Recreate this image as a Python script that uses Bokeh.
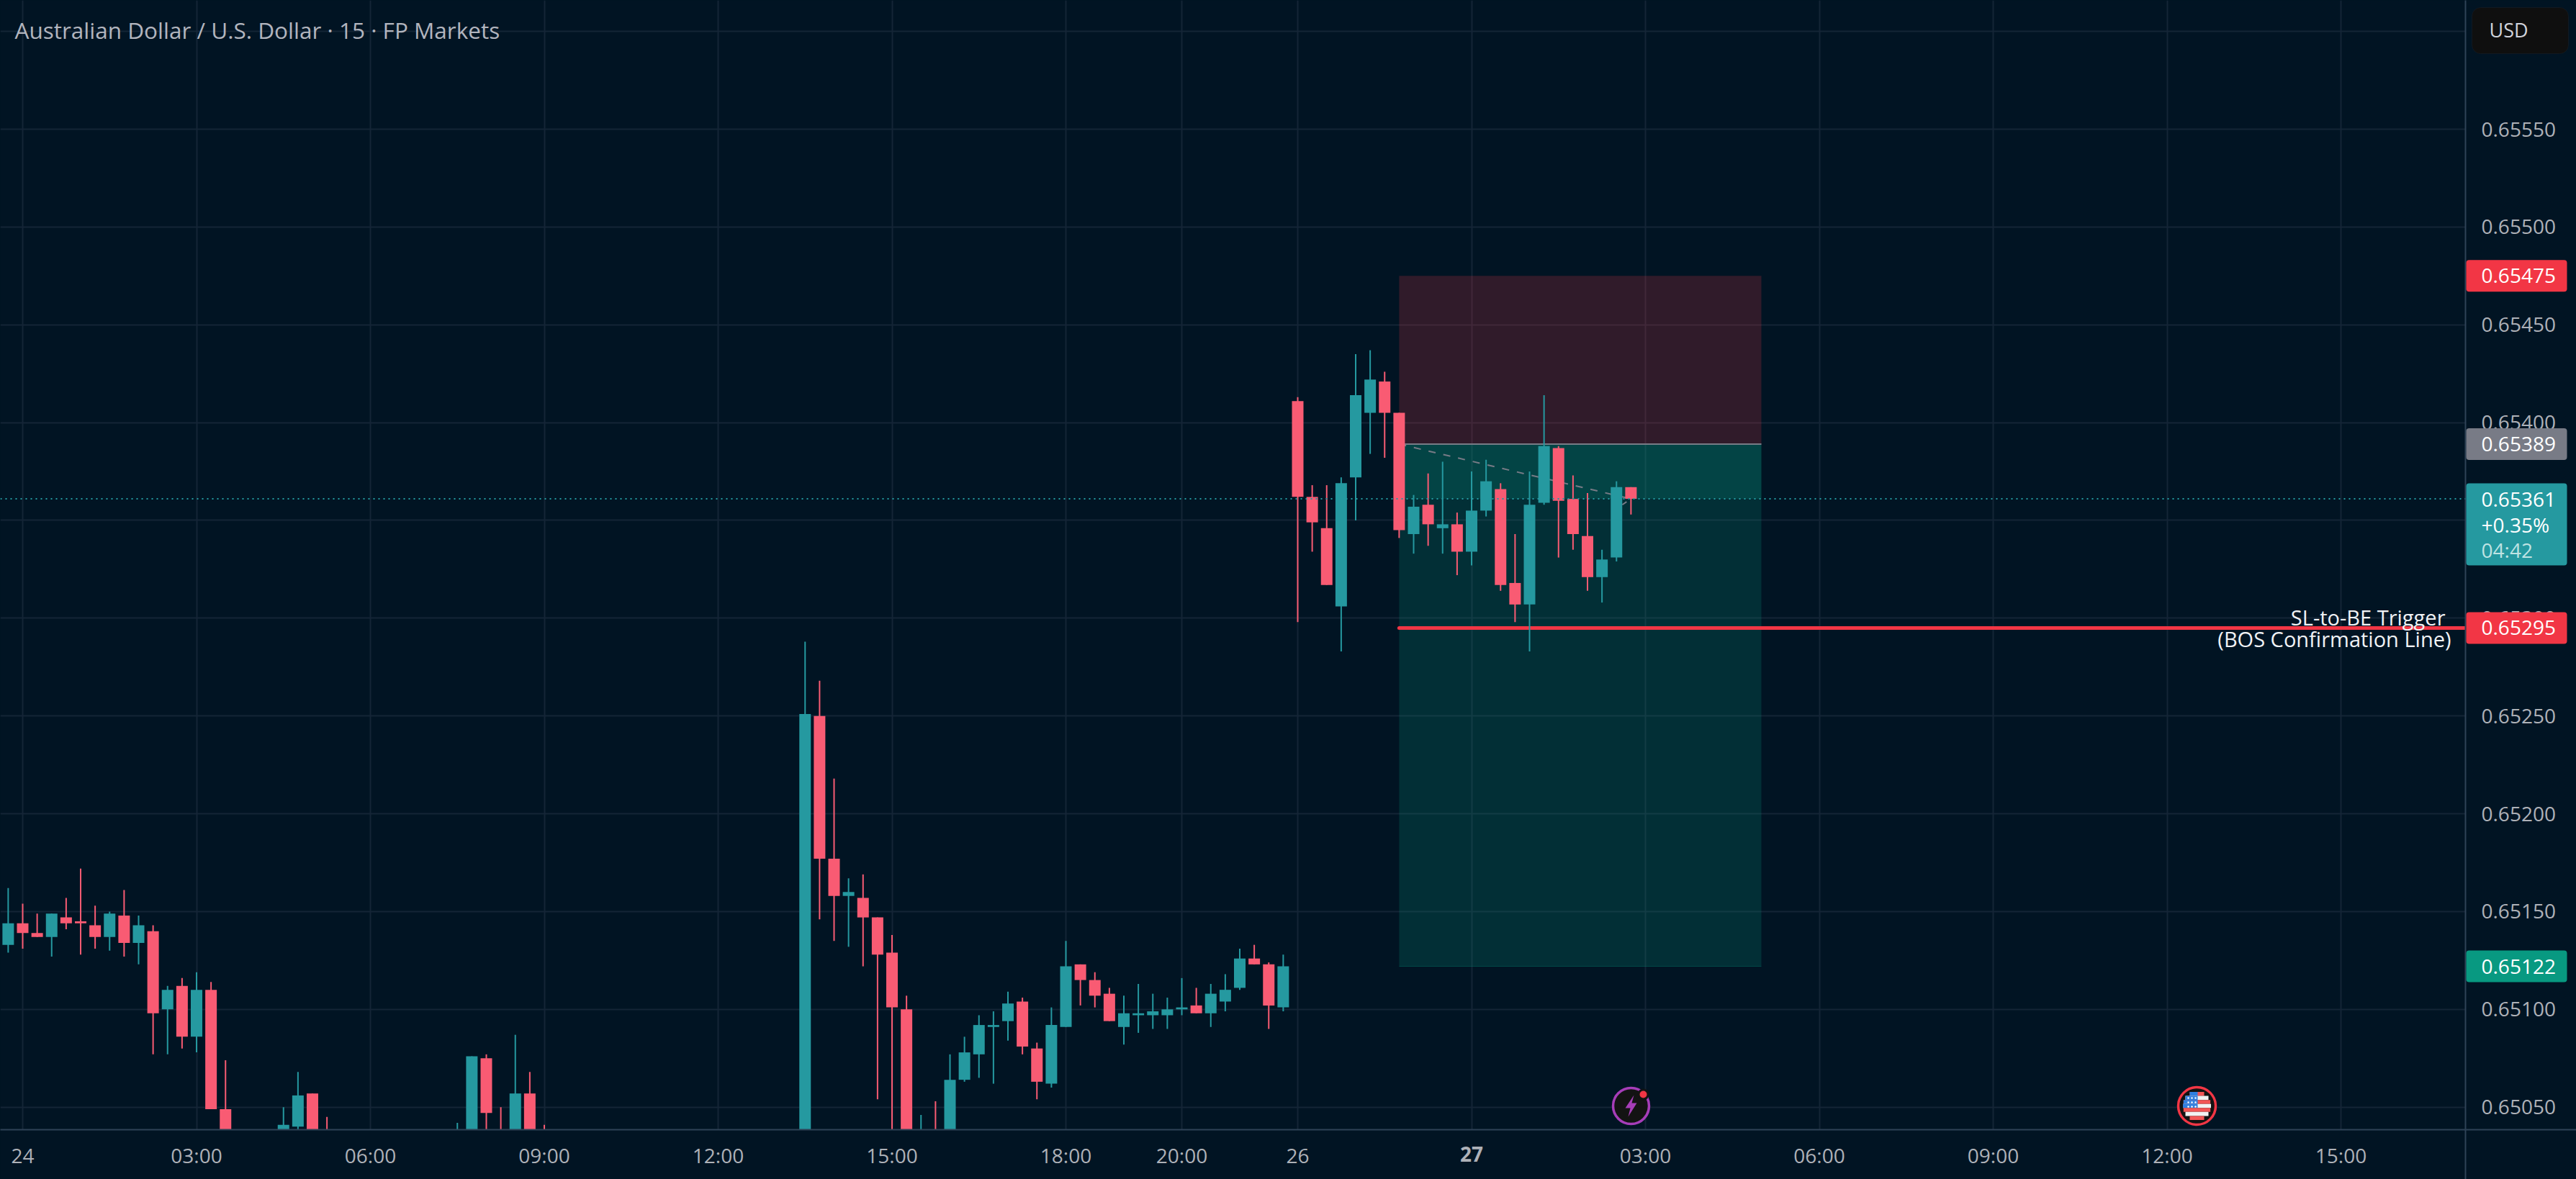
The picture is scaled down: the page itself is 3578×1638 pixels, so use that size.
from bokeh.plotting import figure
from bokeh.embed import file_html
from bokeh.resources import INLINE
from bokeh.models import (Range1d, FixedTicker, PrintfTickFormatter, Label, BoxAnnotation,
                          ColumnDataSource, Span, GlobalInlineStyleSheet)

TITLE = "Australian Dollar / U.S. Dollar · 15 · FP Markets"
bar = [-1,0,1,2,3,4,5,6,7,8,9,10,11,12,13,14,18,19,20,21,30,31,32,33,34,35,36,
       54,55,56,57,58,59,60,61,62,63,64,65,66,67,68,69,70,71,72,73,74,75,76,77,78,79,80,81,82,83,84,85,86,87,
       88,89,90,91,92,93,94,95,96,97,98,99,100,101,102,103,104,105,106,107,108,109,110,111]
open_ = [0.65133,0.65144,0.65139,0.65137,0.65147,0.65145,0.65143,0.65137,0.65148,0.65134,0.65140,0.65100,0.65112,0.65086,0.65110,0.65049,0.65030,0.65040,0.65057,0.65037,0.65030,0.65030,0.65075,0.65036,0.65030,0.65057,0.65036,
         0.65030,0.65250,0.65177,0.65158,0.65157,0.65147,0.65129,0.65100,0.65032,0.65036,0.65030,0.65064,0.65077,0.65091,0.65094,0.65104,0.65080,0.65062,0.65091,0.65123,0.65115,0.65108,0.65091,0.65097,0.65097,0.65097,0.65100,0.65102,0.65098,0.65104,0.65111,0.65126,0.65123,0.65101,
         0.65411,0.65362,0.65346,0.65306,0.65372,0.65405,0.65421,0.65405,0.65343,0.65358,0.65346,0.65348,0.65334,0.65355,0.65366,0.65318,0.65307,0.65359,0.65387,0.65361,0.65342,0.65321,0.65331,0.65367]
high = [0.65162,0.65154,0.65149,0.65149,0.65157,0.65172,0.65153,0.65150,0.65161,0.65148,0.65143,0.65112,0.65116,0.65119,0.65114,0.65074,0.65050,0.65068,0.65057,0.65045,0.65042,0.65076,0.65077,0.65050,0.65087,0.65068,0.65041,
        0.65288,0.65268,0.65218,0.65167,0.65169,0.65147,0.65138,0.65107,0.65046,0.65053,0.65077,0.65086,0.65097,0.65099,0.65109,0.65106,0.65083,0.65101,0.65135,0.65123,0.65119,0.65111,0.65107,0.65113,0.65108,0.65106,0.65116,0.65111,0.65113,0.65118,0.65131,0.65133,0.65124,0.65128,
        0.65413,0.65368,0.65368,0.65372,0.65435,0.65437,0.65426,0.65405,0.65363,0.65374,0.65380,0.65354,0.65375,0.65381,0.65369,0.65343,0.65375,0.65414,0.65388,0.65373,0.65364,0.65335,0.65370,0.65367]
low = [0.65129,0.65131,0.65137,0.65127,0.65141,0.65128,0.65131,0.65130,0.65127,0.65123,0.65077,0.65077,0.65080,0.65078,0.65049,0.65025,0.65025,0.65035,0.65028,0.65020,0.65025,0.65025,0.65030,0.65025,0.65028,0.65028,0.65028,
       0.65025,0.65146,0.65135,0.65132,0.65122,0.65054,0.65030,0.65028,0.65028,0.65025,0.65028,0.65063,0.65065,0.65062,0.65084,0.65077,0.65054,0.65060,0.65091,0.65102,0.65101,0.65094,0.65082,0.65088,0.65090,0.65090,0.65097,0.65098,0.65091,0.65099,0.65110,0.65123,0.65090,0.65099,
       0.65298,0.65334,0.65317,0.65283,0.65350,0.65384,0.65382,0.65341,0.65333,0.65337,0.65333,0.65322,0.65327,0.65352,0.65314,0.65298,0.65283,0.65358,0.65331,0.65335,0.65314,0.65308,0.65329,0.65353]
close = [0.65144,0.65139,0.65137,0.65149,0.65144,0.65144,0.65137,0.65149,0.65134,0.65143,0.65098,0.65110,0.65086,0.65110,0.65049,0.65030,0.65041,0.65056,0.65030,0.65025,0.65036,0.65076,0.65047,0.65030,0.65057,0.65030,0.65030,
         0.65251,0.65177,0.65158,0.65160,0.65147,0.65128,0.65101,0.65030,0.65036,0.65030,0.65064,0.65078,0.65092,0.65092,0.65103,0.65081,0.65063,0.65092,0.65122,0.65115,0.65107,0.65094,0.65098,0.65098,0.65099,0.65100,0.65101,0.65098,0.65108,0.65110,0.65126,0.65123,0.65102,0.65122,
         0.65362,0.65349,0.65317,0.65369,0.65414,0.65422,0.65405,0.65345,0.65357,0.65348,0.65348,0.65334,0.65355,0.65370,0.65317,0.65307,0.65358,0.65388,0.65360,0.65343,0.65321,0.65330,0.65367,0.65361]

x_ticks = [0,12,24,36,48,60,72,80,88,100,112,124,136,148,160]
x_labels = ["24","03:00","06:00","09:00","12:00","15:00","18:00","20:00","26","27","03:00","06:00","09:00","12:00","15:00"]
y_ticks = [0.65050,0.65100,0.65150,0.65200,0.65250,0.65300,0.65350,0.65400,0.65450,0.65500,0.65550,0.65600]

stop_price = 0.65475
entry_price = 0.65389
target_price = 0.65122
trigger_price = 0.65295
last_price = 0.65361
box_start, box_end = 95, 120

BG = "#011423"; GRID = "#142536"; AXIS = "#2f4257"; TICK = "#aeb1b8"
UP = "#2599a0"; DOWN = "#f95b73"; RED = "#f23645"; GREY = "#787b86"; GREEN = "#089981"
FONT = "Open Sans"; FS = "28px"

# layout: page pixel of bar 0, pixels per bar, pixel of 0.6555, pixels per price unit
X0, DX, Y0, DY = 31.0, 20.125, 179.0, 271740.0
W, H, R, B = 3578, 1638, 3424, 1569
def i_at(x): return (x - X0) / DX
def p_at(y): return 0.6555 - (y - Y0) / DY
def y_at(p): return Y0 + (0.6555 - p) * DY

p = figure(width=W, height=H, output_backend="svg", toolbar_location=None,
           x_range=Range1d(i_at(0), i_at(R)), y_range=Range1d(p_at(B), p_at(0)),
           y_axis_location="right", background_fill_color=BG, border_fill_color=BG,
           min_border_left=0, min_border_top=0, min_border_right=W - R, min_border_bottom=H - B)
p.stylesheets = [GlobalInlineStyleSheet(css=f"html,body{{background:{BG};}}")]
p.outline_line_color = None

p.xaxis.ticker = FixedTicker(ticks=x_ticks)
p.xaxis.major_label_overrides = {t: ("" if s == "27" else s) for t, s in zip(x_ticks, x_labels)}
p.yaxis.ticker = FixedTicker(ticks=y_ticks)
p.yaxis.formatter = PrintfTickFormatter(format="%.5f")
for ax in (p.xaxis[0], p.yaxis[0]):
    ax.major_tick_line_color = None
    ax.minor_tick_line_color = None
    ax.axis_line_color = AXIS
    ax.axis_line_width = 2
    ax.major_label_text_color = TICK
    ax.major_label_text_font = FONT
    ax.major_label_text_font_size = FS
p.xaxis[0].major_label_standoff = 10
p.yaxis[0].major_label_standoff = 16
for g in (p.xgrid[0], p.ygrid[0]):
    g.grid_line_color = GRID
    g.grid_line_width = 2

# position tool
p.quad(left=[box_start], right=[box_end], bottom=[entry_price], top=[stop_price], fill_color=RED, fill_alpha=0.2, line_color=None)
p.quad(left=[box_start], right=[box_end], bottom=[target_price], top=[entry_price], fill_color=GREEN, fill_alpha=0.2, line_color=None)
p.quad(left=[box_start], right=[box_end], bottom=[last_price], top=[entry_price], fill_color=GREEN, fill_alpha=0.2, line_color=None)
p.line([box_start, box_end], [entry_price, entry_price], line_color=GREY, line_width=2)
p.line([box_start, box_end], [target_price, target_price], line_color=GREEN, line_width=1, line_alpha=0.35)
p.line([box_start, bar[-1]], [entry_price, last_price], line_color=GREY, line_width=2, line_dash="10 11")
p.line([110.4, 110.7], [0.65358, 0.653595], line_color=GREY, line_width=2)
p.line([box_start, 168.6], [trigger_price, trigger_price], line_color=RED, line_width=5, line_cap="round")

src = ColumnDataSource(dict(
    x=bar, open=open_, high=high, low=low, close=close,
    top=[max(a, b) for a, b in zip(open_, close)], bottom=[min(a, b) for a, b in zip(open_, close)],
    color=[UP if c >= o else DOWN for o, c in zip(open_, close)]))
p.segment(x0="x", x1="x", y0="low", y1="high", line_color="color", line_width=2, source=src)
p.vbar(x="x", width=0.795, top="top", bottom="bottom", fill_color="color", line_color=None, source=src)

p.add_layout(Span(location=last_price, dimension="width", line_color=UP, line_width=2, line_dash="2 5"))

# icons at the foot of the pane
ix, iy = i_at(2265), p_at(1536)
p.scatter([ix], [iy], size=50, fill_color="#131313", line_color="#a63db8", line_width=3.5)
bolt = [(4, -15), (-8, 3), (-1, 3), (-4, 15), (8, -4), (1, -4)]
p.patch([i_at(2265 + a) for a, b in bolt], [p_at(1536 + b) for a, b in bolt], fill_color="#a63db8", line_color=None)
p.scatter([i_at(2282)], [p_at(1520)], size=13, fill_color=RED, line_color="#131313", line_width=3)

fx0, fy0 = 3051, 1536
p.scatter([i_at(fx0)], [p_at(fy0)], size=52, fill_color="#131313", line_color=RED, line_width=3.5)
rad = 19.5
n = 7
h = 2 * rad / n
for k in range(n):
    yc = -rad + (k + 0.5) * h
    half = (rad ** 2 - yc ** 2) ** 0.5
    col = "#f25656" if k % 2 == 0 else "#f2f2f2"
    p.quad(left=[i_at(fx0 - half)], right=[i_at(fx0 + half)], top=[p_at(fy0 + yc - h / 2)], bottom=[p_at(fy0 + yc + h / 2)],
           fill_color=col, line_color=None)
    if yc < 3:
        p.quad(left=[i_at(fx0 - half)], right=[i_at(fx0 + 1)], top=[p_at(fy0 + yc - h / 2)], bottom=[p_at(fy0 + yc + h / 2)],
               fill_color="#2f7fe0", line_color=None)
sx = [fx0 + a for a in (-12, -7, -2) for _ in (-11, -5, 1)]
sy = [fy0 + b for _ in (-12, -7, -2) for b in (-11, -5, 1)]
p.scatter([i_at(a) for a in sx], [p_at(b) for b in sy], size=2.5, fill_color="white", line_color=None)

# transparent overlay, a figure of the same size whose frame fills the page:
# it carries what has to sit over the price and time scales
ov = figure(width=W, height=H, output_backend="svg", toolbar_location=None,
            x_range=Range1d(i_at(0), i_at(W)), y_range=Range1d(p_at(H), p_at(0)),
            x_axis_type=None, y_axis_type=None, background_fill_color=None, border_fill_color=None,
            min_border=0, styles={"position": "absolute", "left": "0px", "top": "0px"})
ov.outline_line_color = None
ov.grid.visible = False

def box(x0, x1, y0, y1, fill, line=None, radius=0):
    ov.add_layout(BoxAnnotation(left=x0, right=x1, top=H - y0, bottom=H - y1,
                                left_units="screen", right_units="screen", top_units="screen", bottom_units="screen",
                                fill_color=fill, fill_alpha=1, line_color=line, border_radius=radius))

def text(s, x, y, color, align="left", size=FS, style="normal", font=FONT):
    ov.add_layout(Label(x=x, y=H - y, x_units="screen", y_units="screen", text=s, text_color=color,
                        text_font=font, text_font_size=size, text_font_style=style,
                        text_align=align, text_baseline="middle"))

# axis line extensions
box(R - 1, W, B - 1, B + 1, AXIS)
box(R - 1, R + 1, B, H, AXIS)

def badge(price, fill, s):
    yc = y_at(price)
    box(3425, 3565, yc - 22, yc + 22, fill, radius=4)
    text(s, 3446, yc, "#ffffff")

badge(stop_price, RED, "0.65475")
badge(entry_price, GREY, "0.65389")
badge(target_price, GREEN, "0.65122")
badge(trigger_price, RED, "0.65295")
box(3425, 3565, 671, 785, UP, radius=4)
text("0.65361", 3446, 693, "#ffffff")
text("+0.35%", 3446, 728, "#ffffff")
text("04:42", 3446, 763, "#bfe3e3")

box(3433, 3567, 10, 74, "#0f0f0f", line="#2a2e39", radius=12)
text("USD", 3457, 41, "#d1d4dc", size="27px")

text(TITLE, 20, 41, "#b2b5be", size="31.5px")
text("27", X0 + DX * x_ticks[9], 1603, TICK, align="center", style="bold")
text("SL-to-BE Trigger", 3396, 857, "#f0f2f5", align="right", size="29px")
text("(BOS Confirmation Line)", 3404, 887, "#f0f2f5", align="right", size="29px")

open("out.html", "w").write(file_html([p, ov], INLINE))
